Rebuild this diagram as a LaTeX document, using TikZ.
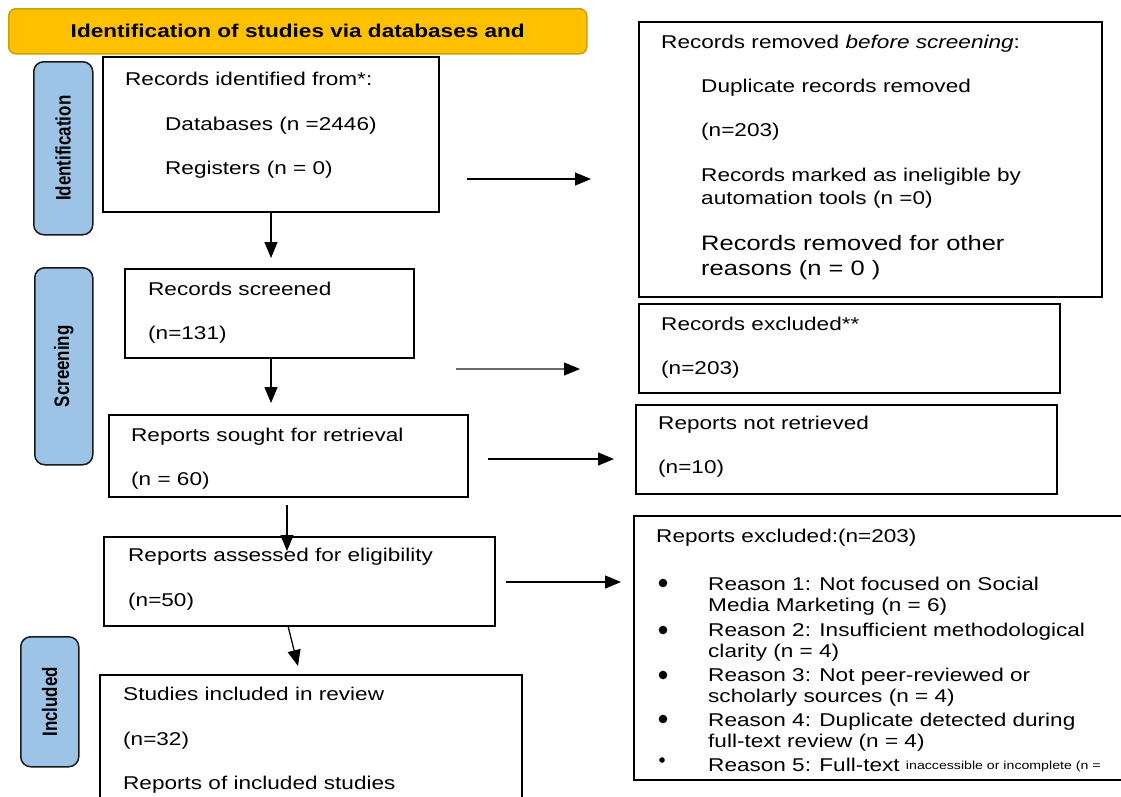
\documentclass[tikz,border=0pt]{standalone}
\usepackage{fontspec}
\setmainfont{Liberation Sans}[FakeStretch=1.22]
\newfontfamily\sidefont{Liberation Sans}
\usetikzlibrary{arrows.meta}
\definecolor{hdrfill}{HTML}{FFC000}
\definecolor{hdrdraw}{HTML}{C9A100}
\definecolor{sidefill}{HTML}{9DC3E6}
\definecolor{sidedraw}{HTML}{1A1A1A}
\definecolor{arrgray}{HTML}{6A6A6A}
\newcommand{\sidelab}[1]{\rotatebox{90}{\scalebox{1}[1.24]{\sidefont\bfseries\fontsize{16.9}{18}\selectfont #1}}}
\begin{document}
\begin{tikzpicture}[x=1pt,y=-1pt,
  box/.style={draw=black, line width=2pt, anchor=north west, inner sep=0pt, outer sep=0pt},
  hdr/.style={draw=hdrdraw, fill=hdrfill, line width=1.5pt, rounded corners=7pt, anchor=north west, inner sep=0pt, font=\bfseries\fontsize{18.5}{22}\selectfont},
  side/.style={draw=sidedraw, fill=sidefill, line width=1.5pt, rounded corners=10pt, anchor=north west, inner sep=0pt},
  txt/.style={anchor=base west, inner sep=0pt, font=\fontsize{18.5}{23}\selectfont},
  bigtxt/.style={anchor=base west, inner sep=0pt, font=\fontsize{20.9}{26}\selectfont},
  arr/.style={line width=1.3pt, -{Triangle[length=16pt,width=13pt,color=black]}},
]
\clip (0,0) rectangle (1121,796);
\fill[white] (0,0) rectangle (1121,796);

% header and side labels
\node[hdr, minimum width=578pt, minimum height=45pt] (h) at (8,8) {Identification of studies via databases and};
\node[side, minimum width=59pt, minimum height=173pt] (l1) at (33,61) {\sidelab{Identification}};
\node[side, minimum width=58pt, minimum height=197pt] (l2) at (34,267) {\sidelab{Screening}};
\node[side, minimum width=58pt, minimum height=130pt] (l3) at (20,636) {\sidelab{Included}};

% boxes
\node[box, minimum width=336pt, minimum height=155pt] (b1) at (103,57) {};
\node[box, minimum width=463pt, minimum height=275pt] (b2) at (639,22) {};
\node[box, minimum width=289pt, minimum height=89pt] (b3) at (125,269) {};
\node[box, minimum width=421pt, minimum height=89pt] (b4) at (639,304) {};
\node[box, minimum width=359pt, minimum height=82pt] (b5) at (109,415) {};
\node[box, minimum width=421pt, minimum height=89pt] (b6) at (636,405) {};
\node[box, minimum width=391pt, minimum height=89pt] (b7) at (104,537) {};
\node[box, minimum width=540pt, minimum height=264pt] (b8) at (634,516) {};
\node[box, minimum width=422pt, minimum height=170pt] (b9) at (100,675) {};

% box texts
\node[txt] (t11) at (125,85) {Records identified from*:};
\node[txt] (t12) at (165,130) {Databases (n =2446)};
\node[txt] (t13) at (165,174) {Registers (n = 0)};

\node[txt] (t21) at (661,48) {Records removed \textit{before screening}:};
\node[txt] (t22) at (701,92) {Duplicate records removed};
\node[txt] (t23) at (701,136) {(n=203)};
\node[txt] (t24) at (701,181) {Records marked as ineligible by};
\node[txt] (t25) at (701,204) {automation tools (n =0)};
\node[bigtxt] (t26) at (701,250) {Records removed for other};
\node[bigtxt] (t27) at (701,275) {reasons (n = 0 )};

\node[txt] (t31) at (148,295) {Records screened};
\node[txt] (t32) at (148,339) {(n=131)};

\node[txt] (t41) at (661,330) {Records excluded**};
\node[txt] (t42) at (661,374) {(n=203)};

\node[txt] (t51) at (131,441) {Reports sought for retrieval};
\node[txt] (t52) at (131,485) {(n = 60)};

\node[txt] (t61) at (658,429) {Reports not retrieved};
\node[txt] (t62) at (658,473) {(n=10)};

\node[txt] (t71) at (128,561) {Reports assessed for eligibility};
\node[txt] (t72) at (128,606) {(n=50)};

\node[txt] (t81) at (656,542) {Reports excluded:(n=203)};
\node[txt] (t82) at (708,590) {Reason 1: Not focused on Social};
\node[txt] (t83) at (708,611) {Media Marketing (n = 6)};
\node[txt] (t84) at (708,636) {Reason 2: Insufficient methodological};
\node[txt] (t85) at (708,657) {clarity (n = 4)};
\node[txt] (t86) at (708,681) {Reason 3: Not peer-reviewed or};
\node[txt] (t87) at (708,702) {scholarly sources (n = 4)};
\node[txt] (t88) at (708,726) {Reason 4: Duplicate detected during};
\node[txt] (t89) at (708,747) {full-text review (n = 4)};
\node[txt] (t810) at (708,771) {Reason 5: Full-text {\fontsize{11.6}{14}\selectfont\raisebox{2pt}{inaccessible or incomplete (n =}}};
\fill (663,583) circle (4.3pt);
\fill (663,630) circle (4.3pt);
\fill (663,675) circle (4.3pt);
\fill (663,719) circle (4.3pt);
\fill (662,760) circle (2.8pt);

\node[txt] (t91) at (123,700) {Studies included in review};
\node[txt] (t92) at (123,745) {(n=32)};
\node[txt] (t93) at (123,789) {Reports of included studies};

% arrows
\coordinate (a1) at (271,258);
\draw[arr] (b1.south) -- (a1);
\coordinate (a2) at (271,403);
\draw[arr] (b3.south -| a2) -- (a2);
\coordinate (a3s) at (287,505);
\coordinate (a3e) at (287,551);
\draw[arr] (a3s) -- (a3e);
\coordinate (a4s) at (288,626);
\coordinate (a4e) at (298,666);
\draw[arr] (a4s) -- (a4e);
\coordinate (r1s) at (467,179);
\coordinate (r1e) at (591,179);
\draw[arr] (r1s) -- (r1e);
\coordinate (r2s) at (456,369);
\coordinate (r2e) at (580,369);
\draw[arr, draw=arrgray] (r2s) -- (r2e);
\coordinate (r3s) at (488,459);
\coordinate (r3e) at (614,459);
\draw[arr] (r3s) -- (r3e);
\coordinate (r4s) at (506,582);
\coordinate (r4e) at (621,582);
\draw[arr] (r4s) -- (r4e);
\end{tikzpicture}
\end{document}
